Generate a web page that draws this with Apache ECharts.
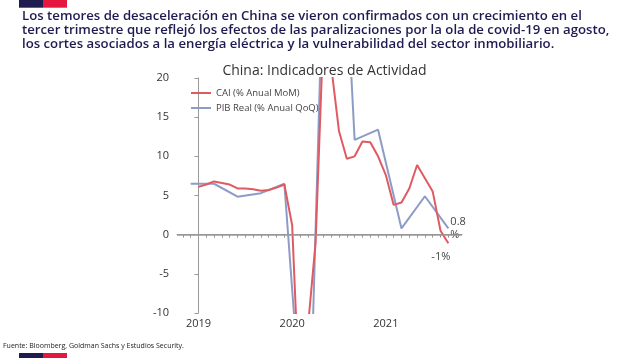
<!DOCTYPE html>
<html><head><meta charset="utf-8">
<script src="https://cdn.jsdelivr.net/npm/echarts@6/dist/echarts.min.js"></script>
<style>html,body{margin:0;padding:0;background:#fff}#c{width:638px;height:358px}</style>
</head><body><div id="c"></div>
<script>
const headerLines = [
  'Los temores de desaceleración en China se vieron confirmados con un crecimiento en el',
  'tercer trimestre que reflejó los efectos de las paralizaciones por la ola de covid-19 en agosto,',
  'los cortes asociados a la energía eléctrica y la vulnerabilidad del sector inmobiliario.'
];
const chartTitle = 'China: Indicadores de Actividad';
const sourceText = 'Fuente: Bloomberg, Goldman Sachs y Estudios Security.';
const seriesNames = ['CAI (% Anual MoM)', 'PIB Real (% Anual QoQ)'];

const caiMonths = [
  '2019-01','2019-02','2019-03','2019-04','2019-05','2019-06','2019-07','2019-08','2019-09','2019-10','2019-11','2019-12',
  '2020-01','2020-02','2020-03','2020-04','2020-05','2020-06','2020-07','2020-08','2020-09','2020-10','2020-11','2020-12',
  '2021-01','2021-02','2021-03','2021-04','2021-05','2021-06','2021-07','2021-08','2021-09'
];
const caiValues = [
  6.1, 6.4, 6.8, 6.6, 6.4, 5.9, 5.9, 5.8, 5.6, 5.7, 6.0, 6.4,
  1.2, -22.4, -12.0, -1.0, 26.0, 21.5, 13.2, 9.7, 10.0, 11.9, 11.8, 10.0,
  7.6, 3.8, 4.1, 5.9, 8.9, 7.2, 5.5, 0.5, -1.1
];
const pibQuarters = ['2018-12','2019-03','2019-06','2019-09','2019-12','2020-03','2020-06','2020-09','2020-12','2021-03','2021-06','2021-09'];
const pibValues = [6.5, 6.5, 4.85, 5.3, 6.5, -34.0, 70.0, 12.1, 13.4, 0.8, 4.9, 0.8];

const yearLabels = ['2019', '2020', '2021'];
const yTicks = [-10, -5, 0, 5, 10, 15, 20];
const caiEndLabel = '-1%';
const pibEndLabel = '0.8\n%';

function monthIndex(s) {
  const [y, m] = s.split('-').map(Number);
  return (y - Number(yearLabels[0])) * 12 + (m - 1);
}
const caiData = caiMonths.map((m, i) => [monthIndex(m), caiValues[i]]);
const pibData = pibQuarters.map((m, i) => [monthIndex(m), pibValues[i]]);

const monthTicks = [];
for (let i = -2; i <= 33; i++) monthTicks.push(i);
const yearTickValues = yearLabels.map(y => monthIndex(y + '-01'));

const navy = '#1f1b50', red = '#e4173e';
const chart = echarts.init(document.getElementById('c'), null, { renderer: 'canvas' });
chart.setOption({
  animation: false,
  backgroundColor: '#fff',
  textStyle: { fontFamily: 'Open Sans' },
  title: {
    text: chartTitle, left: 319.5, textAlign: 'center', top: 59,
    textStyle: { fontSize: 14, fontWeight: 'normal', color: '#333', fontFamily: 'Open Sans' }
  },
  legend: {
    orient: 'vertical', left: 186, top: 82, icon: 'rect', itemWidth: 20, itemHeight: 2, itemGap: 3,
    itemStyle: { borderWidth: 0 },
    textStyle: { fontSize: 9.5, color: '#444', lineHeight: 12, fontFamily: 'Open Sans' },
    data: seriesNames
  },
  grid: { left: 177, right: 176, top: 78, bottom: 45 },
  xAxis: {
    type: 'value', min: -2.75, max: 33.75,
    axisLine: { show: true, lineStyle: { color: '#999', width: 1 } },
    axisTick: { show: true, customValues: monthTicks, length: 3, lineStyle: { color: '#999' } },
    axisLabel: {
      customValues: yearTickValues, margin: 5, fontSize: 11, color: '#333',
      formatter: v => yearLabels[Math.round(v / 12)] || ''
    },
    splitLine: { show: false }
  },
  yAxis: {
    type: 'value', min: yTicks[0], max: yTicks[yTicks.length - 1], interval: 5,
    axisLine: { show: true, lineStyle: { color: '#999', width: 1 } },
    axisTick: { show: true, length: 4, lineStyle: { color: '#999' } },
    axisLabel: { margin: 8, fontSize: 11, color: '#333' },
    splitLine: { show: false }
  },
  series: [
    {
      name: seriesNames[0], type: 'line', data: caiData, showSymbol: false, symbol: 'none',
      lineStyle: { color: '#e05a62', width: 2 }, itemStyle: { color: '#e05a62' }, z: 3,
      endLabel: {
        show: true, formatter: caiEndLabel, distance: 0, offset: [-17, 14],
        fontSize: 11, color: '#444', fontFamily: 'Open Sans'
      },
      markLine: {
        silent: true, symbol: 'none', label: { show: false },
        lineStyle: { color: '#999', width: 1.5, type: 'solid' },
        data: [{ yAxis: 0 }]
      }
    },
    {
      name: seriesNames[1], type: 'line', data: pibData, showSymbol: false, symbol: 'none',
      lineStyle: { color: '#8d9cc6', width: 2 }, itemStyle: { color: '#8d9cc6' }, z: 2,
      endLabel: {
        show: true, formatter: pibEndLabel, distance: 2, offset: [0, -0.5],
        fontSize: 11, lineHeight: 13, color: '#444', fontFamily: 'Open Sans'
      }
    }
  ],
  graphic: [
    { type: 'rect', shape: { x: 19, y: 0, width: 24, height: 7.7 }, style: { fill: navy } },
    { type: 'rect', shape: { x: 43, y: 0, width: 24, height: 7.7 }, style: { fill: red } },
    { type: 'rect', shape: { x: 19, y: 353, width: 24, height: 5 }, style: { fill: navy } },
    { type: 'rect', shape: { x: 43, y: 353, width: 24, height: 5 }, style: { fill: red } },
    {
      type: 'text', left: 22, top: 9,
      style: { text: headerLines.join('\n'), fontSize: 13.2, lineHeight: 14, fontWeight: 600, fill: navy, fontFamily: 'Open Sans' }
    },
    {
      type: 'text', left: 3, top: 342,
      style: { text: sourceText, fontSize: 7, fill: '#222', fontFamily: 'Open Sans' }
    }
  ]
});
</script>
</body></html>
